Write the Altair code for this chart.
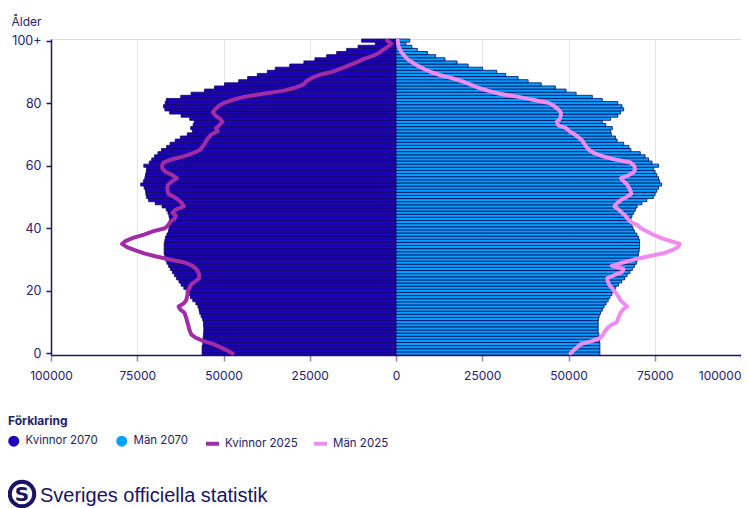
import altair as alt
import pandas as pd

ages = list(range(101))

kvinnor_2070 = [
    56200, 56200, 56200, 56000, 55900, 55900, 55800, 55700, 55700, 55800,
    55800, 56100, 56500, 56900, 57100, 57400, 58000, 58900, 59600, 60200,
    60800, 61500, 62300, 62900, 63600, 64200, 64800, 65400, 65900, 66400,
    66800, 67000, 67200, 67200, 67200, 67200, 67000, 66800, 66400, 66000,
    65800, 65600, 65600, 65600, 65800, 66100, 66600, 67800, 69800, 71700,
    72300, 72500, 72600, 73000, 74000, 73200, 72800, 72600, 72400, 72300,
    73100, 71500, 70800, 70000, 69000, 68000, 66500, 65500, 64000, 62500,
    60500, 59000, 59500, 58800, 58500, 59800, 62300, 65600, 67000, 67400,
    66900, 66600, 62400, 59400, 55500, 52600, 49700, 45600, 43000, 40200,
    37300, 35000, 30800, 26700, 23500, 20100, 17200, 14300, 11000, 6000,
    10000,
]

man_2070 = [
    59100, 59100, 59100, 59100, 59000, 58900, 58800, 58600, 58600, 58600,
    58600, 58700, 58900, 59300, 59800, 60300, 60900, 61500, 62000, 62600,
    63100, 63700, 64500, 65400, 66300, 67000, 67800, 68500, 69100, 69700,
    70000, 70200, 70300, 70500, 70600, 70600, 70600, 70300, 69800, 69100,
    68700, 68400, 68100, 68100, 68400, 68900, 69400, 69900, 71300, 72700,
    74600, 75100, 75600, 76100, 77000, 76400, 76100, 75600, 75100, 74600,
    76100, 74200, 73200, 72200, 70800, 68100, 67500, 66000, 64100, 63600,
    62400, 62200, 62700, 60800, 59800, 62200, 64300, 65100, 66000, 65500,
    64300, 59800, 56900, 52200, 49300, 46200, 42100, 38300, 35400, 31800,
    29200, 25100, 20900, 17700, 14200, 11500, 9100, 6200, 4600, 2900,
    4000,
]

kvinnor_2025 = [
    47400, 49000, 51000, 52900, 56000, 58000, 59300, 59700, 60000, 60200,
    60500, 60700, 61000, 61300, 62500, 63000, 61500, 60800, 60600, 60400,
    60300, 59800, 59400, 58200, 57100, 57000, 57300, 57900, 59000, 61000,
    65500, 69500, 73000, 75700, 78000, 79400, 78300, 76000, 73000, 70500,
    67000, 66000, 65500, 64200, 63800, 64800, 63800, 61500, 62000, 63000,
    64300, 66000, 66200, 66300, 66000, 64900, 63500, 64800, 66700, 67700,
    67800, 67400, 65100, 61500, 58800, 56900, 56100, 55500, 55000, 54300,
    53500, 51700, 52200, 51200, 50300, 51000, 52300, 53100, 52400, 51500,
    50000, 47500, 44000, 38500, 32500, 29000, 26800, 26000, 24500, 22300,
    18500, 16000, 13800, 11500, 9600, 7000, 5000, 3800, 2400, 1300,
    2600,
]

man_2025 = [
    50600, 51500, 52500, 53600, 57000, 59300, 60000, 60500, 61200, 62300,
    64000, 64300, 64700, 65100, 65800, 67000, 66000, 65100, 64600, 64000,
    63200, 62500, 61800, 61400, 61200, 63200, 65500, 66000, 62500, 65500,
    69000, 73000, 77500, 80000, 81800, 82200, 79400, 76500, 74500, 72800,
    71000, 70000, 68000, 67200, 66500, 65500, 64500, 63300, 64000, 65200,
    66800, 68200, 68000, 67500, 67000, 66000, 65200, 67500, 69000, 69300,
    69000, 68000, 63500, 60000, 57500, 56000, 55200, 54600, 54000, 53000,
    51800, 50300, 49300, 47000, 46600, 47500, 47800, 47800, 47000, 45900,
    44500, 40000, 35500, 30000, 26600, 23600, 21500, 19100, 16200, 12700,
    10000, 8000, 6200, 4700, 3400, 2500, 1800, 1200, 800, 600,
    500,
]

bar_series = ["Kvinnor 2070", "Män 2070"]
bar_colors = ["#1E00BE", "#00A0FF"]
line_series = ["Kvinnor 2025", "Män 2025"]
line_colors = ["#A22BA6", "#F08CF0"]

x_ticks = [-100000, -75000, -50000, -25000, 0, 25000, 50000, 75000, 100000]
y_ticks = [0, 10, 20, 30, 40, 50, 60, 70, 80, 90, 100]

bars_df = pd.DataFrame({
    "age": ages + ages,
    "value": [-v for v in kvinnor_2070] + man_2070,
    "serie": [bar_series[0]] * 101 + [bar_series[1]] * 101,
})
lines_df = pd.DataFrame({
    "age": ages + ages,
    "value": [-v for v in kvinnor_2025] + man_2025,
    "serie": [line_series[0]] * 101 + [line_series[1]] * 101,
})

TXT = "#24226a"
FONT = "Inter"

xscale = alt.Scale(domain=[-100000, 100000], nice=False, zero=False)
yscale = alt.Scale(domain=[-0.5, 100.5], nice=False, zero=False)

xaxis = alt.Axis(
    values=x_ticks, labelExpr="'' + abs(datum.value)", title=None,
    grid=True, gridColor="#e4e4e4", gridWidth=1,
    domainColor="#1a1464", domainWidth=1.5,
    tickColor="#8c89b5", tickSize=6, tickWidth=1.5,
    labelColor=TXT, labelFontSize=12, labelFont=FONT, labelPadding=9,
    labelFlush=False,
    labelAlign={"condition": {"test": "datum.value == 100000", "value": "right"}, "value": "center"},
)
yaxis = alt.Axis(
    values=y_ticks, labelExpr="datum.value == 100 ? '100+' : '' + datum.value",
    title="Ålder", titleAngle=0, titleAlign="left", titleBaseline="alphabetic",
    titleX=-40, titleY=-14, titleFontWeight="normal", titleFontSize=12,
    titleColor=TXT, titleFont=FONT,
    grid=False, domainColor="#1a1464", domainWidth=1.5,
    tickColor="#1a1464", tickSize=5, tickWidth=1.5,
    labelColor=TXT, labelFontSize=12.5, labelFont=FONT, labelPadding=5,
)

bar = alt.Chart(bars_df).transform_calculate(
    lo="datum.age - 0.5", hi="datum.age + 0.5"
).mark_bar(stroke="#0c0a5c", strokeWidth=0.8).encode(
    x=alt.X("value:Q", scale=xscale, axis=xaxis),
    x2=alt.datum(0),
    y=alt.Y("lo:Q", scale=yscale, axis=yaxis),
    y2="hi:Q",
    fill=alt.Fill(
        "serie:N",
        scale=alt.Scale(domain=bar_series, range=bar_colors),
        legend=alt.Legend(
            title="Förklaring", orient="none", legendX=-43, legendY=377,
            direction="horizontal", symbolType="circle", symbolSize=121,
            symbolStrokeWidth=0, labelFontSize=11.5, labelColor=TXT, labelFont=FONT,
            titleFontSize=12, titleFontWeight="bold", titleColor=TXT, titleFont=FONT,
            titlePadding=7, labelOffset=6, columnPadding=18, padding=0,
        ),
    ),
)

line = alt.Chart(lines_df).mark_line(
    strokeWidth=4, strokeCap="round", strokeJoin="round"
).encode(
    x=alt.X("value:Q", scale=xscale),
    y=alt.Y("age:Q", scale=yscale),
    order=alt.Order("age:Q"),
    stroke=alt.Stroke(
        "serie:N",
        scale=alt.Scale(domain=line_series, range=line_colors),
        legend=alt.Legend(
            title=" ", orient="none", legendX=153, legendY=377,
            direction="horizontal", symbolType="stroke", symbolSize=169,
            symbolStrokeWidth=4, labelFontSize=11.5, labelColor=TXT, labelFont=FONT,
            titleFontSize=12, titleFont=FONT, titlePadding=7,
            labelOffset=4, columnPadding=8, padding=0,
        ),
    ),
)

one = alt.Data(values=[{"k": 1}])
logo_ring = alt.Chart(one).mark_point(
    shape="circle", filled=False, stroke="#1b1464", strokeWidth=4, size=600, opacity=1
).encode(x=alt.value(-29), y=alt.value(455))
logo_s = alt.Chart(one).mark_text(
    text="S", fontSize=20, fontWeight="bold", color="#1b1464", font="DejaVu Sans",
    align="center", baseline="middle"
).encode(x=alt.value(-29), y=alt.value(456))
logo_text = alt.Chart(one).mark_text(
    text="Sveriges officiella statistik", fontSize=20, color="#1b1464",
    font="Liberation Sans", align="left", baseline="alphabetic"
).encode(x=alt.value(-11), y=alt.value(463))

chart = alt.layer(bar, line, logo_ring, logo_s, logo_text).properties(
    width=690, height=316,
    autosize=alt.AutoSizeParams(type="none"),
    padding={"left": 43, "top": 31, "right": 0, "bottom": 153},
).configure_view(stroke=None).configure(font=FONT)

chart.save("out.html", embed_options={"renderer": "svg", "actions": False})
